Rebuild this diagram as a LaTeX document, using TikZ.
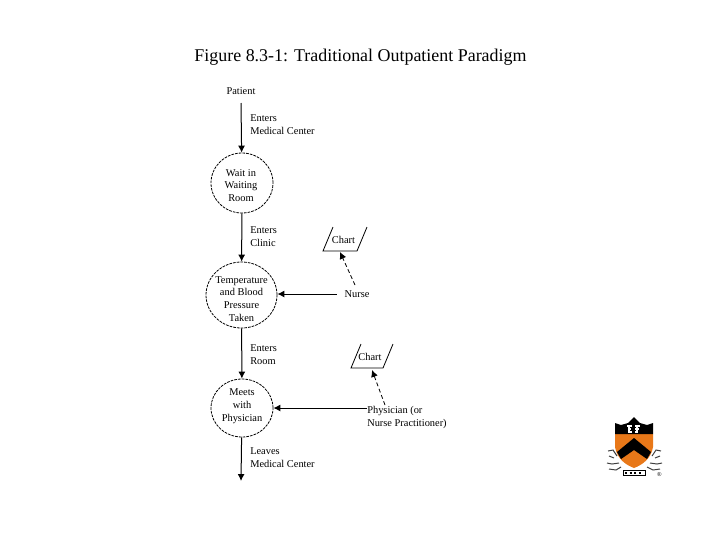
\documentclass[tikz,border=0pt]{standalone}
\usepackage{fontspec}
\usetikzlibrary{arrows.meta,shapes.geometric}
\setmainfont{Liberation Serif}
\newlength{\du}
\setlength{\du}{0.75pt}
\definecolor{shieldorange}{rgb}{0.910000, 0.470000, 0.100000}
\tikzset{
  flowarrow/.style={-{Latex[length=5.2pt,width=5.2pt]},line width=1\du},
  thinarrow/.style={-{Latex[length=5.2pt,width=5.2pt]},line width=0.8\du,densely dashed},
  stepcircle/.style={draw,ellipse,line width=0.8\du,dash pattern=on 2pt off 0.8pt,inner sep=0pt},
  labeltext/.style={font=\fontsize{7.8pt}{9.6pt}\selectfont,align=left,anchor=west,inner sep=0pt},
  steptext/.style={font=\fontsize{7.8pt}{9.6pt}\selectfont,align=center,inner sep=0pt},
  chartline/.style={line width=0.8\du},
  crestline/.style={line width=1\du,black!75}
}
\begin{document}
\begin{tikzpicture}
\pgftransformxscale{1.000000}
\pgftransformyscale{-1.000000}
\useasboundingbox (0\du,0\du) rectangle (720\du,540\du);
\node[font=\fontsize{13.45pt}{15pt}\selectfont] (title) at (360.5\du,57\du) {Figure 8.3-1: Traditional Outpatient Paradigm};
% main flow
\node[steptext] (patient) at (241\du,91\du) {Patient};
\node[stepcircle,minimum width=62\du,minimum height=60\du] (wait) at (242\du,183\du) {};
\node[steptext] (waittext) at (241\du,185.5\du) {Wait in\\Waiting\\Room};
\node[stepcircle,minimum width=71\du,minimum height=66\du] (temp) at (241.5\du,295\du) {};
\node[steptext] (temptext) at (241.5\du,299\du) {Temperature\\and Blood\\Pressure\\Taken};
\node[stepcircle,minimum width=62\du,minimum height=58\du] (meets) at (242\du,408\du) {};
\node[steptext] (meetstext) at (242\du,406.5\du) {Meets\\with\\Physician};
\coordinate (patientout) at (241\du,103\du);
\coordinate (leave) at (241\du,481\du);
\draw[flowarrow] (patientout) -- (wait);
\draw[flowarrow] (wait) -- (temp);
\draw[flowarrow] (temp) -- (meets);
\draw[flowarrow] (meets) -- (leave);
\node[labeltext] (entersA) at (250\du,124.5\du) {Enters\\Medical Center};
\node[labeltext] (entersB) at (250\du,237\du) {Enters\\Clinic};
\node[labeltext] (entersC) at (250\du,354.5\du) {Enters\\Room};
\node[labeltext] (leaves) at (250\du,458\du) {Leaves\\Medical Center};
% staff
\node[steptext,inner sep=5.6pt] (nurse) at (357\du,294\du) {Nurse};
\node[labeltext] (physician) at (367\du,417.5\du) {Physician (or\\Nurse Practitioner)};
\draw[flowarrow] (nurse.west) -- (nurse.west -| temp.east);
\draw[flowarrow] (physician.west |- meets) -- (meets);
% charts
\node[steptext] (chartA) at (343.5\du,240\du) {Chart};
\node[steptext] (chartB) at (370\du,357\du) {Chart};
\draw[chartline] (333\du,227\du) -- (323\du,251\du) -- (357\du,251\du) -- (367\du,227\du);
\draw[chartline] (361\du,344\du) -- (351\du,368\du) -- (383\du,368\du) -- (393\du,344\du);
\coordinate (nurseout) at (355\du,285\du);
\coordinate (physicianout) at (385\du,405\du);
\coordinate (chartAtip) at (340\du,252\du);
\coordinate (chartBtip) at (372\du,370\du);
\draw[thinarrow] (nurseout) -- (chartAtip);
\draw[thinarrow] (physicianout) -- (chartBtip);
% shield
\fill[shieldorange] (615\du,434\du) -- (653\du,434\du) -- (653\du,447\du) .. controls (651\du,459\du) and (642\du,465\du) .. (634\du,468\du) .. controls (626\du,465\du) and (617\du,459\du) .. (615\du,447\du) -- cycle;
\fill[black] (615\du,423\du) -- (621\du,425\du) -- (628\du,423\du) -- (634\du,417\du) -- (640\du,423\du) -- (647\du,425\du) -- (653\du,423\du) -- (653\du,434\du) -- (615\du,434\du) -- cycle;
\fill[black] (617\du,452\du) -- (634\du,438\du) -- (651\du,452\du) -- (647\du,459\du) -- (634\du,450\du) -- (621\du,459\du) -- cycle;
% book
\draw[white,line width=1.2\du] (627\du,426\du) -- (632\du,426\du) (628\du,429\du) -- (631\du,429\du) (628\du,432\du) -- (632\du,432\du)
  (635\du,426\du) -- (640\du,426\du) (635\du,429\du) -- (639\du,429\du) (635\du,432\du) -- (638\du,432\du) (629\du,426\du) -- (629\du,432\du) (637\du,426\du) -- (637\du,432\du);
% ribbon
\draw[crestline] (608\du,451\du) -- (613\du,450\du) -- (617\du,456\du) (609\du,456\du) -- (614\du,458\du) (607\du,463\du) -- (612\du,464\du) -- (619\du,463\du) (609\du,469\du) -- (616\du,470\du) -- (621\du,467\du);
\draw[crestline] (661\du,451\du) -- (656\du,450\du) -- (652\du,456\du) (660\du,456\du) -- (655\du,458\du) (662\du,463\du) -- (657\du,464\du) -- (650\du,463\du) (660\du,469\du) -- (653\du,470\du) -- (647\du,467\du);
\draw[line width=1\du] (623\du,470\du) rectangle (645\du,475\du);
\draw[line width=2\du,dotted] (625\du,472.5\du) -- (643\du,472.5\du);
\node[font=\fontsize{4.5pt}{5pt}\selectfont,inner sep=0pt] (registered) at (659.5\du,475\du) {\textregistered};
\end{tikzpicture}
\end{document}
